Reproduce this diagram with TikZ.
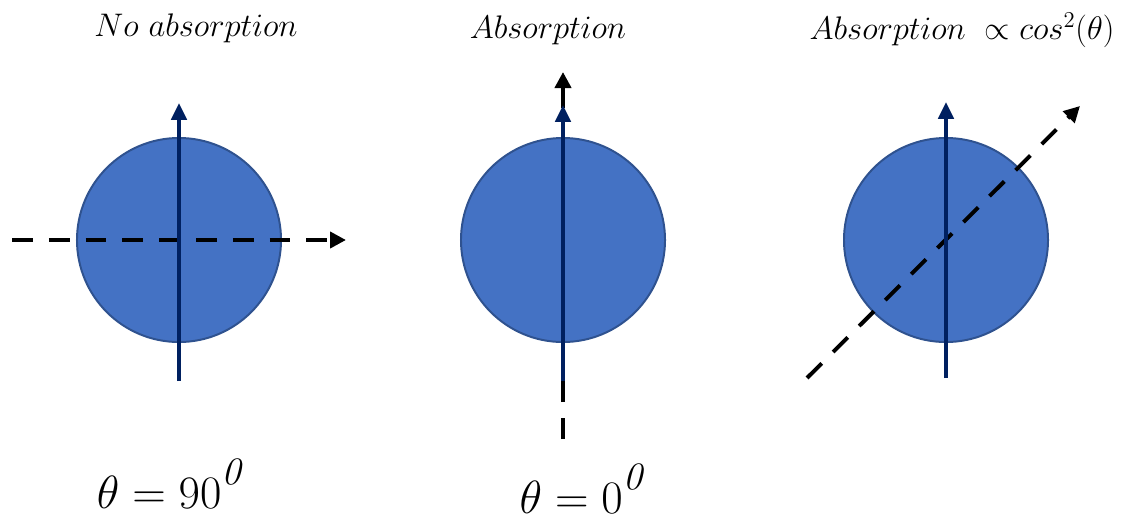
\documentclass[tikz,border=0pt]{standalone}
\usepackage{tikz}
\usetikzlibrary{arrows.meta}
\definecolor{diskfill}{HTML}{4472C4}
\definecolor{diskline}{HTML}{2F528F}
\definecolor{navy}{HTML}{002060}
\newcommand{\degsup}[1]{^{\raisebox{0.35ex}{$\scriptstyle\mathit{#1}$}}}
\tikzset{%
  disk/.style={circle, fill=diskfill, draw=diskline, line width=1.4pt, minimum size=5.1cm, inner sep=0pt},
  dipole/.style={draw=navy, line width=2.8pt, -{Triangle[length=0.42cm, width=0.38cm]}},
  light/.style={draw=black, line width=2.8pt, dash pattern=on 0.52cm off 0.4cm, -{Triangle[length=0.4cm, width=0.4cm]}},
  title/.style={font=\huge},
  angle label/.style={font=\Huge, inner sep=0pt},
}
\begin{document}
\begin{tikzpicture}[x=0.025cm, y=-0.025cm]
    \useasboundingbox (0,0) rectangle (1130,521);

    % molecules
    \node[disk] (M1) at (179,240) {};
    \node[disk] (M2) at (563,240) {};
    \node[disk] (M3) at (946,240) {};

    % dipole ends
    \coordinate (P1a) at (179,381);
    \coordinate (P1b) at (179,103);
    \coordinate (P2a) at (563,381);
    \coordinate (P2b) at (563,105);
    \coordinate (P3a) at (946,378);
    \coordinate (P3b) at (946,102);

    % polarisation ends
    \coordinate (L1a) at (12,240);
    \coordinate (L1b) at (346,240);
    \coordinate (L2a) at (563,439);
    \coordinate (L2b) at (563,72);
    \coordinate (L3a) at (807,378);
    \coordinate (L3b) at (1080,106);

    %polarisation of light
    \draw[light] (L1a) -- (L1b);
    \draw[light] (L2a) -- (L2b);
    \draw[light] (L3a) -- (L3b);

    %transition dipoles
    \draw[dipole] (P1a) -- (P1b);
    \draw[dipole] (P2a) -- (P2b);
    \draw[dipole] (P3a) -- (P3b);

    % labels
    \node[title] (T1) at (196,28) {\scalebox{1.12}{$No\ absorption$}};
    \node[title] (T2) at (548,30) {\scalebox{1.12}{$Absorption$}};
    \node[title] (T3) at (962,30) {\scalebox{1.12}{$Absorption\ \propto cos^2(\theta)$}};
    \node[angle label] (A1) at (172,484) {\scalebox{1.33}{$\theta = 90\degsup{0}$}};
    \node[angle label] (A2) at (584,489) {\scalebox{1.33}{$\theta = 0\degsup{0}$}};
\end{tikzpicture}
\end{document}
